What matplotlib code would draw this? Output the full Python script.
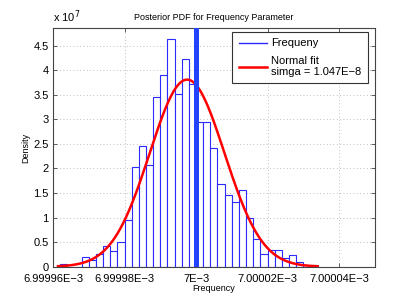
import numpy as np
import matplotlib
matplotlib.use('Agg')
import matplotlib.pyplot as plt
from matplotlib.lines import Line2D

plt.rcParams['font.family'] = ['Liberation Sans', 'DejaVu Sans']

# Histogram data (density, in units of 1e7), bins of width 2e-9
bin_start = 6.999962e-3
bin_width = 2e-9
density = [0.05, 0.0, 0.0, 0.20, 0.14, 0.25, 0.43, 0.31, 0.51, 0.95,
           2.03, 2.46, 2.08, 3.46, 3.90, 4.63, 3.51, 4.23, 3.73, 2.95,
           2.95, 2.41, 1.69, 1.46, 1.31, 1.56, 0.99, 0.56, 0.25, 0.35,
           0.35, 0.18, 0.23, 0.09, 0.03, 0.03]

# Normal fit
mu = 6.9999975e-3
sigma = 1.047e-8
true_value = 7e-3

xticks = [6.99996e-3, 6.99998e-3, 7e-3, 7.00002e-3, 7.00004e-3]
xtick_labels = ['6.99996E\u22123', '6.99998E\u22123', '7E\u22123', '7.00002E\u22123', '7.00004E\u22123']
yticks = [0, 0.5, 1, 1.5, 2, 2.5, 3, 3.5, 4, 4.5]
ytick_labels = ['0', '0.5', '1', '1.5', '2', '2.5', '3', '3.5', '4', '4.5']

fig = plt.figure(figsize=(4.15, 3.0), dpi=100)
ax = fig.add_axes([0.1277, 0.111, 0.7755, 0.7947])

lefts = bin_start + bin_width * np.arange(len(density))
heights = np.array(density) * 1e7
ax.bar(lefts, heights, width=bin_width, align='edge', facecolor='white',
       edgecolor='#2b2bff', linewidth=0.8, zorder=2)

xs = np.linspace(bin_start - 0.6e-9, bin_start + len(density) * bin_width, 300)
pdf = np.exp(-0.5 * ((xs - mu) / sigma) ** 2) / (sigma * np.sqrt(2 * np.pi))
ax.plot(xs, pdf, color='#ff0000', linewidth=1.8, zorder=3)

ax.axvline(true_value, color='#2244ff', linewidth=3.6, zorder=4)

ax.set_xlim(6.99996e-3, 7.00005e-3)
ax.set_ylim(0, 4.855e7)
ax.set_xticks(xticks)
ax.set_xticklabels(xtick_labels, fontsize=8)
ax.set_yticks(np.array(yticks) * 1e7)
ax.set_yticklabels(ytick_labels, fontsize=8)
ax.tick_params(direction='in', top=True, right=True, length=3, width=0.6, color='#444444', pad=3)
ax.tick_params(axis='x', pad=5)
ax.grid(True, linestyle=(0, (1, 3)), color='#aaaaaa', linewidth=0.6)
ax.set_axisbelow(True)
for s in ax.spines.values():
    s.set_color('#444444')
    s.set_linewidth(0.8)

ax.text(0.0, 1.012, 'x 10$^{7}$', transform=ax.transAxes, fontsize=8, ha='left', va='bottom')
ax.set_title('Posterior PDF for Frequency Parameter', fontsize=6.5, pad=6)
ax.set_xlabel('Frequency', fontsize=6.5, labelpad=0)
ax.set_ylabel('Density', fontsize=6.5, labelpad=2)

handles = [Line2D([], [], color='#2b2bff', linewidth=1.0),
           Line2D([], [], color='#ff0000', linewidth=1.8)]
leg = ax.legend(handles, ['Frequeny', 'Normal fit\nsimga = 1.047E\u22128'],
                loc='upper right', bbox_to_anchor=(0.978, 0.983), borderaxespad=0,
                fontsize=8, fancybox=False, framealpha=1, edgecolor='#333333',
                handlelength=2.6, handletextpad=0.35, labelspacing=0.65,
                borderpad=0.55)
leg.get_frame().set_linewidth(0.8)

fig.savefig('out.png', dpi=100)
